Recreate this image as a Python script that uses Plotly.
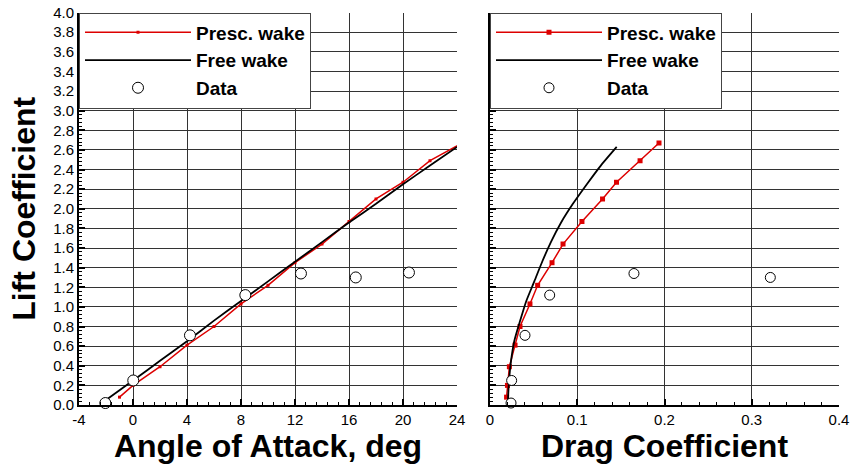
import plotly.graph_objects as go

# ---- data ----
alpha_presc = [-1, 0, 2, 4, 6, 8, 10, 12, 14, 16, 18, 20, 22, 24.4]
cl_presc = [0.08, 0.20, 0.39, 0.61, 0.80, 1.03, 1.22, 1.45, 1.64, 1.87, 2.10, 2.27, 2.49, 2.67]
cd_presc = [0.019, 0.020, 0.0222, 0.0287, 0.0344, 0.0458, 0.0546, 0.0711, 0.0837, 0.1054, 0.129, 0.145, 0.172, 0.1937]

alpha_free = [-2, 0, 2, 4, 6, 8, 10, 12, 14, 16, 18, 20, 22, 24]
cl_free = [0.05, 0.25, 0.45, 0.65, 0.86, 1.06, 1.26, 1.46, 1.66, 1.86, 2.05, 2.25, 2.44, 2.63]
cd_free = [0.0206, 0.0218, 0.0241, 0.0278, 0.0346, 0.0416, 0.0508, 0.0598, 0.0698, 0.0815, 0.0950, 0.1110, 0.1270, 0.1452]

alpha_data = [-2.05, 0.02, 4.22, 8.32, 12.44, 16.5, 20.44]
cl_data = [0.02, 0.25, 0.71, 1.12, 1.34, 1.30, 1.35]
cd_data = [0.0241, 0.0248, 0.0401, 0.0684, 0.165, 0.3213]

x1_tickvals = [-4, 0, 4, 8, 12, 16, 20, 24]
x1_ticktext = ["-4", "0", "4", "8", "12", "16", "20", "24"]
x2_tickvals = [0, 0.1, 0.2, 0.3, 0.4]
x2_ticktext = ["0", "0.1", "0.2", "0.3", "0.4"]

RED = "#dd0000"
FONT = "Liberation Sans, Arial, sans-serif"
W, H = 854, 468

fig = go.Figure()

# left panel
fig.add_trace(go.Scatter(x=alpha_presc, y=cl_presc, mode="lines+markers", name="Presc. wake",
                         line=dict(color=RED, width=1.5), marker=dict(symbol="square", size=3, color=RED),
                         xaxis="x", yaxis="y", legend="legend"))
fig.add_trace(go.Scatter(x=alpha_free, y=cl_free, mode="lines", name="Free wake",
                         line=dict(color="black", width=1.8, shape="spline", smoothing=0.6),
                         xaxis="x", yaxis="y", legend="legend"))
fig.add_trace(go.Scatter(x=alpha_data, y=cl_data, mode="markers", name="Data",
                         marker=dict(symbol="circle", size=11, color="white", line=dict(color="black", width=1)),
                         xaxis="x", yaxis="y", legend="legend", cliponaxis=False))

# right panel
fig.add_trace(go.Scatter(x=cd_presc, y=cl_presc, mode="lines+markers", name="Presc. wake",
                         line=dict(color=RED, width=1.5), marker=dict(symbol="square", size=5, color=RED),
                         xaxis="x2", yaxis="y2", legend="legend2"))
fig.add_trace(go.Scatter(x=cd_free, y=cl_free, mode="lines", name="Free wake",
                         line=dict(color="black", width=1.8, shape="spline", smoothing=0.6),
                         xaxis="x2", yaxis="y2", legend="legend2"))
fig.add_trace(go.Scatter(x=cd_data, y=cl_data[:len(cd_data)], mode="markers", name="Data",
                         marker=dict(symbol="circle", size=10, color="white", line=dict(color="black", width=1)),
                         xaxis="x2", yaxis="y2", legend="legend2", cliponaxis=False))

x1_dom = [79 / W, 457 / W]
x2_dom = [490 / W, 839 / W]
y_dom = [(H - 405) / H, (H - 12.5) / H]

grid = dict(showgrid=True, gridcolor="#333333", gridwidth=1, zeroline=False, automargin=False,
            showline=True, linecolor="black", linewidth=2, mirror=False,
            ticks="inside", ticklen=6, tickwidth=2, tickcolor="black",
            tickfont=dict(family=FONT, size=15, color="black"))

title_font = dict(family=FONT, size=32, weight="bold", color="black")

legend_style = dict(bgcolor="white", bordercolor="#444444", borderwidth=1,
                    font=dict(family=FONT, size=19, color="black", weight="bold"),
                    xanchor="left", yanchor="top", itemwidth=106, tracegroupgap=0)

fig.update_layout(
    width=W, height=H,
    margin=dict(l=0, r=0, t=0, b=0),
    paper_bgcolor="white", plot_bgcolor="white",
    font=dict(family=FONT, color="black"),
    xaxis=dict(domain=x1_dom, range=[-4, 24], anchor="y",
               tickvals=x1_tickvals, ticktext=x1_ticktext,
               minor=dict(dtick=0.8, tick0=-4, ticks="inside", ticklen=3, tickwidth=1, tickcolor="black", showgrid=False),
               title=dict(text="Angle of Attack, deg", font=title_font, standoff=4),
               **grid),
    yaxis=dict(domain=y_dom, range=[0, 4], anchor="x", dtick=0.2, tickformat=".1f",
               minor=dict(dtick=0.04, ticks="inside", ticklen=3, tickwidth=1, tickcolor="black", showgrid=False),
               title=dict(text="Lift Coefficient", font=title_font, standoff=8),
               **grid),
    xaxis2=dict(domain=x2_dom, range=[0, 0.4], anchor="y2",
                tickvals=x2_tickvals, ticktext=x2_ticktext,
                minor=dict(dtick=0.02, ticks="inside", ticklen=3, tickwidth=1, tickcolor="black", showgrid=False),
                title=dict(text="Drag Coefficient", font=title_font, standoff=4),
                **grid),
    yaxis2=dict(domain=y_dom, range=[0, 4], anchor="x2", dtick=0.2, showticklabels=False,
                minor=dict(dtick=0.04, ticks="inside", ticklen=3, tickwidth=1, tickcolor="black", showgrid=False),
                **grid),
    legend=dict(x=x1_dom[0], y=y_dom[1], **legend_style),
    legend2=dict(x=x2_dom[0], y=y_dom[1], **legend_style),
)

fig.write_html("out.html", config={"displayModeBar": False},
               post_script="document.body.style.margin='0px';document.body.style.overflow='hidden';")
